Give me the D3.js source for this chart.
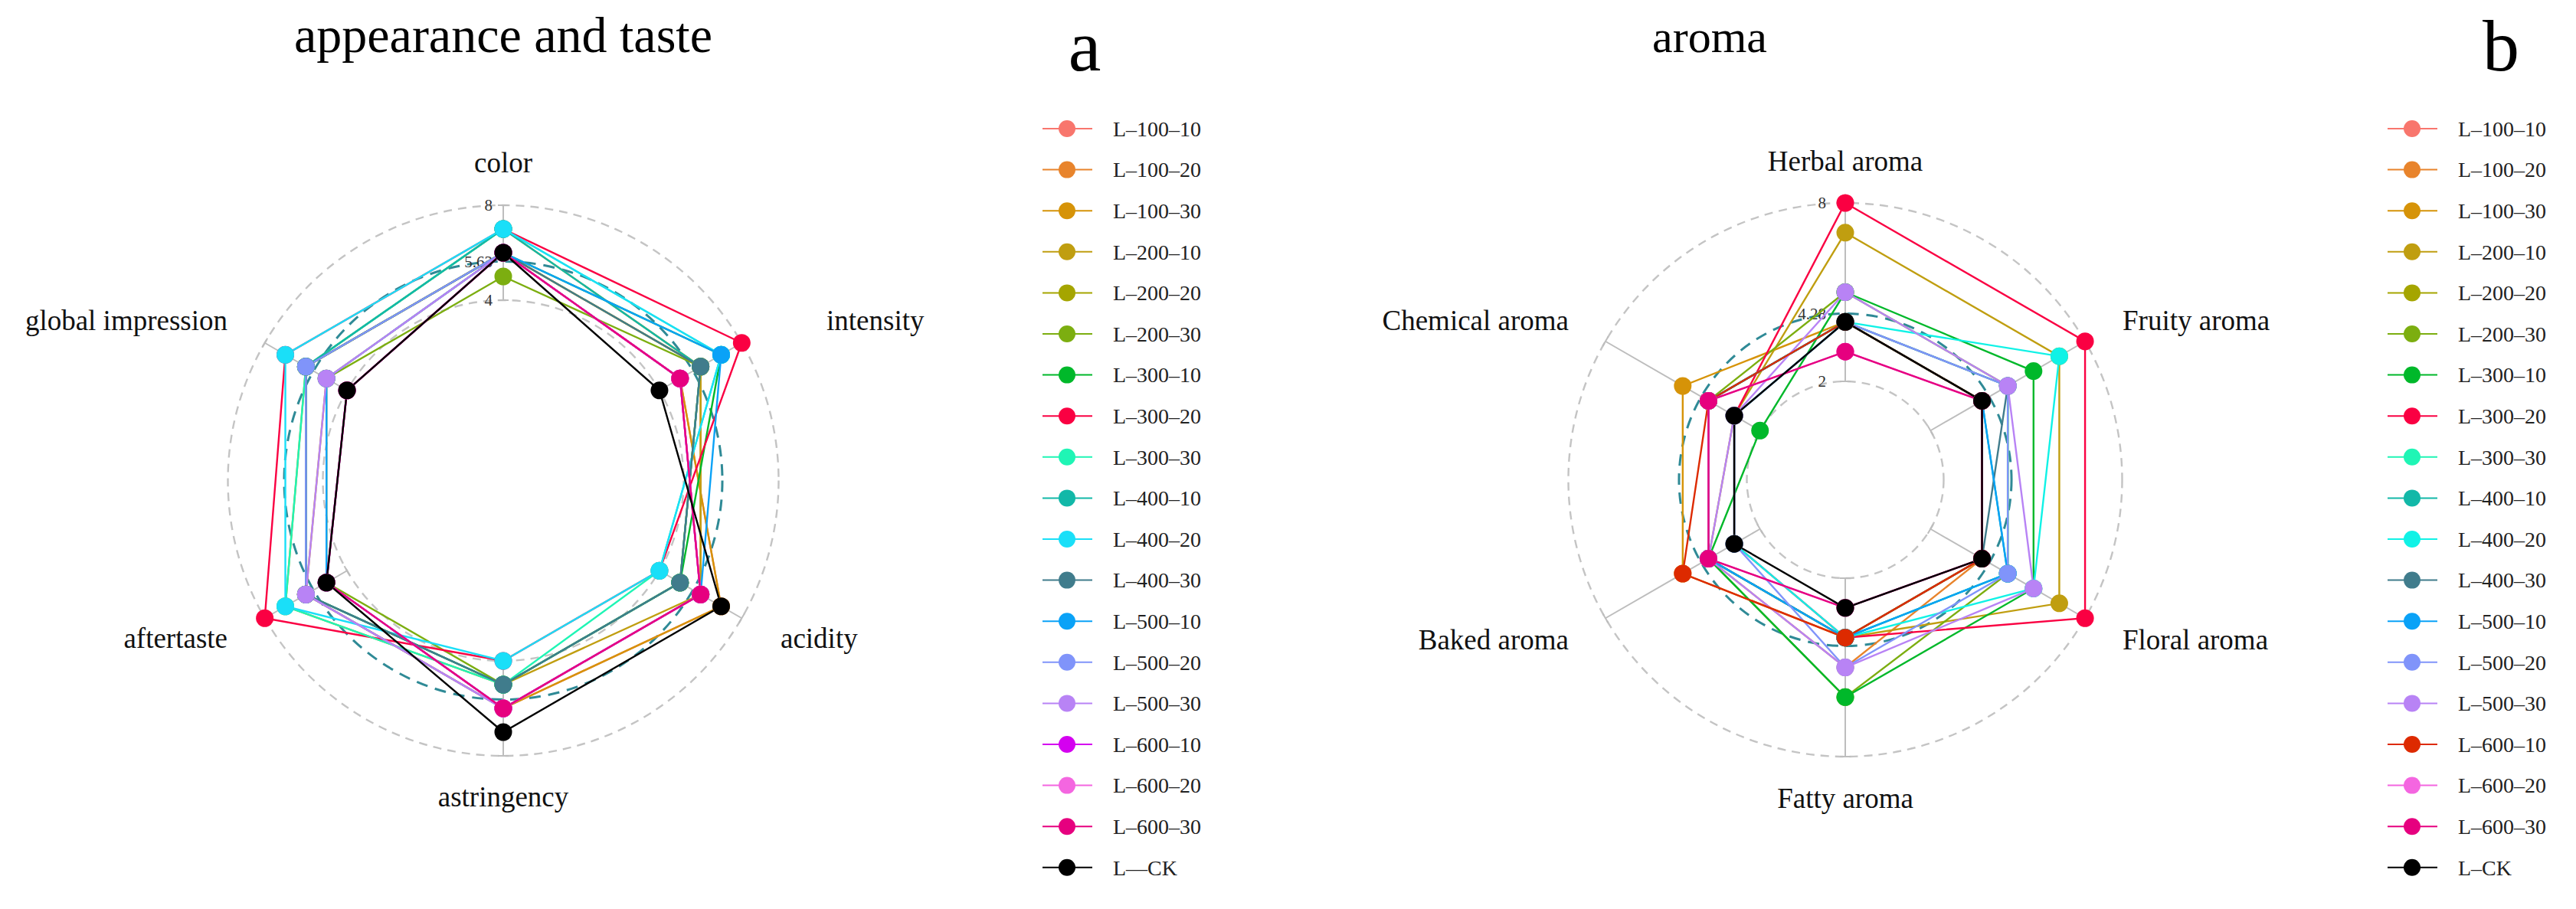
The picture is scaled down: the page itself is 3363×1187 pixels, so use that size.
<!DOCTYPE html>
<html><head><meta charset="utf-8">
<script src="https://cdn.jsdelivr.net/npm/d3@7"></script>
<style>body{margin:0;background:#fff}svg{display:block}</style>
</head><body>
<svg id="chart" width="3363" height="1187"></svg>
<script>
// ---------------- DATA ----------------
const legendLabelsA = ["L–100–10","L–100–20","L–100–30","L–200–10","L–200–20","L–200–30","L–300–10","L–300–20","L–300–30","L–400–10","L–400–20","L–400–30","L–500–10","L–500–20","L–500–30","L–600–10","L–600–20","L–600–30","L—CK"];
const legendLabelsB = ["L–100–10","L–100–20","L–100–30","L–200–10","L–200–20","L–200–30","L–300–10","L–300–20","L–300–30","L–400–10","L–400–20","L–400–30","L–500–10","L–500–20","L–500–30","L–600–10","L–600–20","L–600–30","L–CK"];
const colorsA = ["#F8766D","#E8842C","#D69308","#C09E10","#A5A500","#7CAE10","#00B82A","#FA0042","#1FF5B5","#12B8A8","#1ADFF8","#407C8C","#0AA2F7","#8094FA","#B883F5","#D400F0","#F466E0","#E6007F","#000000"];
const colorsB = ["#F8766D","#E8842C","#D69308","#C09E10","#A5A500","#7CAE10","#00B82A","#FA0042","#1FF5B5","#12B8A8","#10F2E6","#407C8C","#0AA2F7","#8094FA","#B883F5","#DD2A00","#F466E0","#E6007F","#000000"];

const axesA = ["color","intensity","acidity","astringency","aftertaste","global impression"];
const axesB = ["Herbal aroma","Fruity aroma","Floral aroma","Fatty aroma","Baked aroma","Chemical aroma"];

// values per series, order of axes above
const valuesA = [
  [6,5,7,6,6,6],
  [6,6,6,6,6,6],
  [6,5,7,6,6,5],
  [7,6,6,5,7,6],
  [6,6,5,5,6,6],
  [5,6,5,5,5,5],
  [6,7,5,5,6,6],
  [7,8,4,4,8,7],
  [7,7,4,5,7,6],
  [7,6,5,5,6,6],
  [7,7,4,4,7,7],
  [6,6,5,5,6,6],
  [6,7,6,6,5,5],
  [6,5,6,6,6,6],
  [6,5,6,6,6,5],
  [6,5,6,6,5,4],
  [6,5,6,6,5,4],
  [6,5,6,6,5,4],
  [6,4,7,7,5,4]
];
const valuesB = [
  [4,4,4,4,4,4],
  [4,4,4,5,4,4],
  [4,4,4,4,5,5],
  [7,7,7,4,4,3],
  [4,4,4,4,4,4],
  [5,5,5,6,4,4],
  [5,6,6,6,4,2],
  [8,8,8,4,3,3],
  [4,5,5,4,4,4],
  [4,4,5,4,4,4],
  [4,7,6,4,3,3],
  [4,5,4,4,4,4],
  [4,4,5,4,4,4],
  [4,5,5,5,3,3],
  [5,5,6,5,4,3],
  [4,4,4,4,5,4],
  [3,4,4,3,4,4],
  [3,4,4,3,4,4],
  [4,4,4,3,3,3]
];
const gridValuesA = [4, 5.63, 8];
const gridLabelsA = ["4", "5.63", "8"];
const gridValuesB = [2, 4.28, 8];
const gridLabelsB = ["2", "4.28", "8"];
const titles = ["appearance and taste", "aroma"];
const panelTags = ["a", "b"];

// ---------------- DRAW ----------------
const svg = d3.select("#chart");
svg.append("rect").attr("width",3363).attr("height",1187).attr("fill","#fff");
const FONT = "'Liberation Serif','Times New Roman',serif";

function radar(cfg){
  const g = svg.append("g").attr("transform",`translate(${cfg.cx},${cfg.cy})`);
  const n = cfg.axes.length;
  const ang = d3.scaleLinear().domain([0,n]).range([0,2*Math.PI]);
  const r = d3.scaleLinear().domain([cfg.grid[0],cfg.grid[2]]).range(cfg.rRange);
  const px = (i,v)=> r(v)*Math.sin(ang(i));
  const py = (i,v)=> -r(v)*Math.cos(ang(i));

  g.append("circle").attr("r",r(cfg.grid[0])).attr("fill","none").attr("stroke","#c4c4c4").attr("stroke-width",2.4).attr("stroke-dasharray","11,8");
  g.append("circle").attr("r",r(cfg.grid[2])).attr("fill","none").attr("stroke","#c4c4c4").attr("stroke-width",2.4).attr("stroke-dasharray","11,8");
  cfg.axes.forEach((a,i)=>{
    const x1=px(i,cfg.grid[0]), y1=py(i,cfg.grid[0]), x2=px(i,cfg.grid[2]), y2=py(i,cfg.grid[2]);
    g.append("line").attr("x1",x1).attr("y1",y1).attr("x2",x2).attr("y2",y2).attr("stroke","#bdbdbd").attr("stroke-width",2);
    const t = ang(i), c = 7;
    [cfg.grid[0],cfg.grid[2]].forEach(v=>{
      const x=px(i,v), y=py(i,v);
      g.append("line").attr("x1",x-c*Math.cos(t)).attr("y1",y-c*Math.sin(t)).attr("x2",x+c*Math.cos(t)).attr("y2",y+c*Math.sin(t)).attr("stroke","#bdbdbd").attr("stroke-width",2);
    });
  });
  g.append("circle").attr("r",r(cfg.grid[1])).attr("fill","none").attr("stroke","#2F8A96").attr("stroke-width",3).attr("stroke-dasharray","15,10");
  cfg.grid.forEach((v,k)=>{
    g.append("text").attr("x",-cfg.tickOff).attr("y",-r(v)).attr("dy","0.35em").attr("text-anchor","end")
      .attr("font-family",FONT).attr("font-size",21).attr("fill","#333").text(cfg.gridLabels[k]);
  });
  const line = d3.line().x(d=>px(d[0],d[1])).y(d=>py(d[0],d[1])).curve(d3.curveLinearClosed);
  cfg.values.forEach((vals,s)=>{
    g.append("path").attr("d",line(vals.map((v,i)=>[i,v]))).attr("fill","none").attr("stroke",cfg.colors[s]).attr("stroke-width",2.4);
  });
  cfg.values.forEach((vals,s)=>{
    vals.forEach((v,i)=>{
      g.append("circle").attr("cx",px(i,v)).attr("cy",py(i,v)).attr("r",11.5).attr("fill",cfg.colors[s]);
    });
  });
  cfg.axes.forEach((a,i)=>{
    const p = cfg.labelPos[i];
    g.append("text").attr("x",p[0]).attr("y",p[1]).attr("text-anchor",p[2])
      .attr("font-family",FONT).attr("font-size",37).attr("fill","#111").text(a);
  });
  svg.append("text").attr("x",cfg.titleX).attr("y",68).attr("text-anchor","middle").attr("font-family",FONT).attr("font-size",cfg.titleSize).attr("fill","#000").text(cfg.title);
  svg.append("text").attr("x",cfg.tagX).attr("y",92).attr("text-anchor","middle").attr("font-family",FONT).attr("font-size",96).attr("fill","#000").text(cfg.tag);
  const lg = svg.append("g").attr("transform",`translate(${cfg.legX},168)`);
  cfg.legend.forEach((lab,s)=>{
    const y = s*53.6;
    lg.append("line").attr("x1",-32).attr("x2",33).attr("y1",y).attr("y2",y).attr("stroke",cfg.colors[s]).attr("stroke-width",2);
    lg.append("circle").attr("cx",0).attr("cy",y).attr("r",11).attr("fill",cfg.colors[s]);
    lg.append("text").attr("x",60).attr("y",y).attr("dy","0.35em").attr("font-family",FONT).attr("font-size",28).attr("fill","#222").text(lab);
  });
}

radar({cx:657, cy:627.5, axes:axesA, values:valuesA, colors:colorsA, grid:gridValuesA, gridLabels:gridLabelsA,
  rRange:[235.5,359.5], tickOff:14,
  labelPos:[[0,-403,"middle"],[422,-197,"start"],[362,218,"start"],[0,425,"middle"],[-360,218,"end"],[-360,-197,"end"]],
  title:titles[0], titleX:657, titleSize:66, tag:panelTags[0], tagX:1416, legend:legendLabelsA, legX:1393});

radar({cx:2409, cy:626.5, axes:axesB, values:valuesB, colors:colorsB, grid:gridValuesB, gridLabels:gridLabelsB,
  rRange:[128.5,361.5], tickOff:25,
  labelPos:[[0,-404,"middle"],[362,-196,"start"],[362,221,"start"],[0,428,"middle"],[-361,221,"end"],[-361,-196,"end"]],
  title:titles[1], titleX:2232, titleSize:60, tag:panelTags[1], tagX:3265, legend:legendLabelsB, legX:3149});
</script>
</body></html>
